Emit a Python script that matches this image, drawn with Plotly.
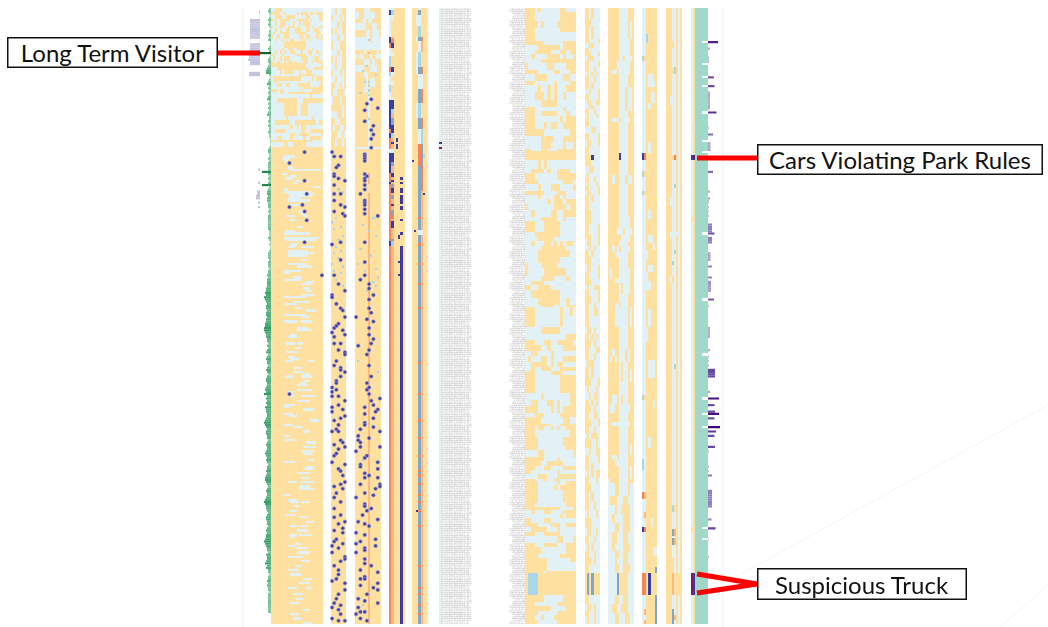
import plotly.graph_objects as go

W, H = 1048, 627
N_ROWS = 280
TOP_PX, BOTTOM_PX = 8, 624

COLORS = {'.': '#FEE0A0', 'b': '#E1F1F6', 'm': '#A8D8E8', 'n': '#7FA8C8', 'd': '#3A3AA0',
          'r': '#F4845A', 'l': '#FDB97D', 't': '#A0D9C8', 'w': '#FFFFFF', 'p': '#7A1F5C'}

A_BANDS = [(0,"bb...bbbbbbbbbbbbbbbbbbb"),(2,"....bb.bbbbb.b...b..b..."),(3,"bb...bb....bbbbb..bbbb.."),
(5,"..bb.....bbb.....b.bbb.."),(6,"bb.b...bbb.bb.b...bbbbbb"),(8,".bbb..bb...b.bbb..b.bb.."),
(9,"bb.b.bb..bb...bb..bb..bb"),(11,"b.bb.....bb.....bbbbb.."),(12,".bb.bb...bbbb..b..bbb.b."),
(14,"bb.bb.bbb..bbb..bb.bbbb."),(15,"bbbbbb..........bbbbbbbb"),(18,"bbbbb.bb..bb....bbb.bbbb"),
(19,"bb.b.b.bb..bbb.bb..bb.bb"),(21,"..bbb.bbbbb.....bb.bbb.b"),(22,"b.bb.b...bbbbb...bbb..bb"),
(24,".bb.bb.b..b.bbb..bb.b..."),(25,"................bbbbbbb."),(27,"bbb..............bbb...."),
(28,"bbbb.b....bbb.bb...bbbbb"),(30,"bbbbbbbbbbbbb.......bbbb"),(31,"b.............bbbbb.b..."),
(33,"b..bbbbbbbbbbbbbb.bbbbb."),(34,"bbb..bb..bbb......bbbb.."),(36,"bbbbbbbbbbbbbbb........."),
(37,"...b..bbbbbbbb.bbbb....."),(38,"bbbb..bb...............b"),(39,"bbbbbbbbbbbbbbbbbb.bbbbb"),
(41,"bbb.........bbb........."),(43,"bbbbbb......bb...bbbbbbb"),(49,"bbbbbbb.bbbbbbbbbbb.bbbb"),
(51,"bb.......bb..........b.."),(53,"bbbbbbbbb.bb.b..bbbbbbbb"),(55,"bb.....bbbbbbb..bb......"),
(57,"bbbbbbbbb..bb.....bbbbb."),(58,"bbb..bbbb.bbbbb.bb.....b"),(60,"...................bbbbbb"),
(61,"bbbbbb..bb......bbbbbbbb"),(63,"........................")]
A_DASHES = [(67,6,5),(68,5,4),(69,6,2),(72,8,2),(73,9,14),(75,5,3),(76,9,3),(77,7,3),(78,11,3),(79,10,2),
(81,20,3),(82,6,2),(83,6,12),(84,8,12),(85,9,10),(86,8,6),(87,8,10),(89,9,4),(92,13,2),(93,14,2),(94,7,4),(94,15,2),
(96,9,2),(99,12,3),(101,7,4),(102,6,12),(104,6,16),(105,7,14),(107,9,3),(108,8,3),(108,14,6),(110,8,9),(111,8,12),
(112,8,9),(114,14,3),(116,8,8),(117,12,7),(119,6,8),(120,6,3),(122,10,4),(123,6,8),(124,16,4),(125,14,5),(127,15,3),
(128,16,3),(130,14,6),(131,6,10),(133,10,8),(134,6,6),(136,11,3),(137,16,5),(139,6,10),(140,14,4),(142,6,6),(142,14,5),
(145,12,5),(146,12,7),(148,9,3),(149,8,4),(152,7,4),(152,12,3),(154,11,3),(156,7,5),(158,8,3),(159,9,4),(160,7,3),
(160,17,3),(163,10,4),(165,10,5),(166,15,3),(167,7,3),(167,14,5),(169,15,3),(170,13,3),(171,12,5),(173,12,7),(174,8,2),
(176,9,2),(176,14,7),(178,12,6),(180,6,5),(181,6,3),(182,15,5),(184,6,4),(185,9,3),(187,18,4),(189,6,4),(190,10,5),
(192,15,3),(194,6,3),(196,6,5),(197,16,5),(199,15,6),(201,14,6),(202,15,4),(205,17,3),(206,6,5),(208,16,4),(209,15,5),
(211,12,6),(213,14,4),(215,8,4),(215,14,6),(217,13,5),(218,13,7),(221,6,3),(223,8,4),(224,9,4),(224,14,4),(226,10,3),
(228,9,3),(230,7,4),(231,13,4),(233,16,4),(235,9,3),(235,13,4),(237,12,5),(239,9,3),(239,13,6),(240,9,2),(243,11,3),
(244,8,3),(245,11,6),(247,12,6),(249,8,7),(251,14,4),(253,11,3),(255,8,5),(257,9,5),(259,15,4),(261,13,5),(263,8,4),
(263,16,3),(266,10,5),(268,11,4),(270,9,4),(273,15,3),(275,9,4),(277,10,4),(279,15,4)]
A_DOTS = [(65,15),(70,8),(78,15),(84,16),(89,14),(90,8),(92,15),(96,16),(106,15),(121,23),(175,8)]

B_BANDS = [(0,"bb.bb.."),(3,".bbb.b."),(6,"bbb.b.."),(9,".b.bb.."),(12,"bbb.bb."),(15,".bbb..."),(19,"bbb.b.."),(22,".b.bb.."),
(25,"bb.bb.."),(28,".bbb.b."),(31,"bb.bbb."),(34,"..bb.b."),(37,".bb...b"),(40,"b...b.."),(44,".....b."),(47,"bbb..b."),(50,"..bb..."),(53,".b..bb."),
(56,"...bb.b"),(59,"..b..b."),(63,".......")]
B_SPOTS = [(82,3),(83,5),(95,2),(97,0),(99,4),(100,1),(103,5),(105,3),(108,2),(110,4),(111,1),(113,3),(116,0),(117,5),(119,1),(120,4),(123,2),(126,5)]
B_DOTS = [(65,0),(67,1),(67,4),(71,3),(72,2),(75,1),(76,1),(77,3),(78,6),(80,1),(84,1),(84,4),(87,1),(89,4),(90,6),(92,1),(93,5),(94,6),
(106,4),(107,0),(114,4),(121,1),(125,3),(128,6),(130,0),(131,0),(134,2),(136,4),(137,5),(140,6),(143,3),(144,2),(145,1),(146,5),(147,0),(148,6),(149,1),
(152,1),(152,4),(155,3),(156,6),(157,6),(160,2),(162,1),(163,4),(164,4),(165,6),(167,4),(169,2),(170,2),(172,0),(173,2),(174,0),(176,0),(176,3),(178,6),
(180,3),(181,0),(182,5),(183,0),(185,6),(186,4),(187,1),(189,3),(191,2),(192,0),(192,3),(196,4),(197,5),(198,1),(199,6),(200,3),(202,2),(203,1),(206,0),
(207,6),(209,3),(210,4),(212,5),(215,6),(216,4),(217,1),(218,5),(220,2),(222,1),(224,4),(227,1),(230,4),(231,1),(233,6),(234,3),(236,5),(237,1),(238,5),
(241,2),(242,1),(243,5),(244,0),(245,3),(247,0),(249,6),(250,6),(251,4),(253,1),(255,3),(257,3),(259,2),(260,0),(261,6),(264,6),(266,3),(268,2),(270,1),
(271,4),(272,0),(273,3),(275,4),(277,0),(278,3),(278,6)]

C_BANDS = [(0,"....bbb....."),(2,"bb..bbbbb..."),(5,"...bb.bb...."),(7,"bbbbb...bb.."),(10,".....bb.bbb."),(13,"bbbbbbb.bbbb"),(16,"bbbbbbbbbbbb"),
(19,"....b.....b."),(21,"b.bb...b.bbb"),(23,"....bbb.b..."),(26,"bbbb...bbb.."),(29,"....bb......"),(32,".....b.bb..."),(36,"....bbb....."),(38,"......b....."),(63,"bbbbbbbbbbbb"),(64,"............")]
C_STRIPE_ROWS = [(20,6,'l'),(33,6,'m'),(37,6,'m'),(39,6,'m'),(50,6,'m'),(75,6,'l'),(76,6,'l'),(77,6,'l'),(78,6,'l'),(79,6,'l'),(84,6,'l'),(85,6,'l')]
C_STRIPE_START = 86
C_DOTS = [(41,7),(43,5),(45,10),(46,4),(51,4),(53,8),(55,7),(57,8),(59,7),(63,7),(66,4),(67,4),(68,4),(69,4),(75,4),(76,5),(77,4),(78,4),(80,4),(82,4),
(84,2),(87,4),(88,4),(89,4),(91,4),(93,4),(94,10),(106,4),(115,4),(121,4),(123,2),(125,6),(127,6),(130,8),(132,6),(136,6),(138,7),(140,0),(141,5),(142,8),
(145,6),(148,6),(150,8),(152,7),(153,1),(155,6),(157,5),(162,6),(167,7),(170,5),(172,6),(173,5),(175,6),(177,11),(178,7),(180,8),(181,4),(182,10),(183,9),
(184,4),(186,8),(188,4),(189,4),(190,8),(191,2),(192,11),(194,1),(195,6),(196,1),(197,2),(199,2),(199,11),(201,0),(203,5),(204,4),(206,10),(207,2),(208,2),
(209,10),(211,4),(212,6),(213,4),(213,10),(216,2),(216,11),(217,11),(218,9),(220,4),(221,8),(222,0),(225,4),(226,4),(227,7),(228,5),(230,3),(232,10),(233,1),
(234,4),(235,6),(238,0),(239,4),(241,9),(242,2),(243,0),(244,9),(245,4),(246,4),(247,0),(250,4),(252,4),(253,7),(255,2),(256,10),(258,4),(259,4),(259,2),
(261,10),(262,2),(263,8),(264,10),(266,5),(268,1),(269,4),(270,10),(272,1),(274,2),(274,4),(275,0),(277,2),(278,5)]
C_SPOTS = [(14,6),(26,5),(28,3),(30,9),(33,4),(35,6),(38,2),(95,8),(98,3),(101,6),(103,9),(109,2),(112,7),(116,1),(118,9),(119,4),(122,10),(124,8),(126,9),(128,5),(160,1),(165,10),(205,3),(271,3)]

D_BANDS = [(0,"bb....."),(1,"dm....."),(3,"bb....."),(6,"b......"),(13,"dl....."),(14,"dr....."),(16,"rd....."),(18,"b......"),(20,"bb....."),(22,"m......"),(27,"rd....."),
(29,"mb....."),(31,"b......"),(33,"bb....."),(35,"m......"),(38,"b......"),(41,"bb....."),(42,"dd....."),(46,"dm....."),(48,"dl....."),(50,"dn....."),(53,"dd....."),
(55,"rd....."),(57,"dm....."),(59,"rl.d..."),(61,"rd....."),(62,"rl.d..."),(64,"bb....."),(66,"dd....."),(70,"dn....."),(72,"dl....."),(75,"rd....."),(77,"rl...d."),
(78,"rd....."),(79,"dl...d."),(80,"rn....."),(82,"rd...d."),(84,"rl....."),(85,"rn...d."),(87,"rl...d."),(89,"rd....."),(90,"rl...d."),(92,"rn....."),(94,"rr....."),
(96,"rl...d."),(97,"rd....."),(100,"rl....."),(102,"rl...d."),(103,"rl..d.."),(105,"rn....."),(106,"dm....."),(108,"rl...d."),(115,"rl..dd."),(116,"rl...d."),(121,"rl..dd."),(122,"rl...d.")]

E_BANDS = [(0,"...b...b"),(1,"...n...b"),(3,"..bb...b"),(8,"...m...b"),(13,"..bnr..b"),(15,"...bl..b"),(20,"..bm...b"),(27,"..bnr..b"),(30,"...bb..b"),(37,"...nr..b"),(43,"..bm...b"),
(50,"...nr..b"),(55,"...bm..b"),(62,"...rn..b"),(72,"...nr..b"),(83,"...nl..b"),(101,"...bb..b"),(103,"...nl..b")]
E_MARKS = [(69,0,'d'),(67,5,'m'),(84,5,'d'),(101,1,'d'),(228,2,'d'),(161,3,'r'),(175,3,'r'),(187,3,'r'),(195,3,'r'),(203,3,'r'),(210,3,'r'),(212,3,'r'),(216,3,'r'),
(221,3,'r'),(224,3,'r'),(228,3,'r'),(235,3,'r'),(253,3,'r'),(263,3,'r'),(266,3,'r'),(271,3,'r'),(275,3,'r'),(95,3,'r'),(107,3,'r'),(116,3,'r'),(125,3,'r'),(136,3,'r')]

F_BANDS = [(0,"b."),(61,"dp"),(62,"b."),(63,"pd"),(64,"b.")]

G_BANDS = [(0,"...b.bbbbbb..bbb"),(2,"...bbbbbbbb....."),(6,"....b.bbbb......"),(9,"...bbbbbbbb....."),(11,"...bbbbbbbbbbbbb"),(15,"......bbbbbb...."),
(17,"bbbb.......b...."),(19,"bbb.....bbb..b.."),(21,"bb.bbbb....b.bb."),(23,"bbbbb..........."),(25,".bbbbbb..bbbb..."),(28,"....bbbbb..bbb.."),(30,"bbb....bbbbb..bb"),
(33,"...bbbbbb.bbbb.."),(35,"bbbb.bb.b.bbb..."),(38,"bbb...b.b.bb.bbb"),(42,"bbbbb.....bbbbbb"),(45,"...bbbbbbbbb.bbb"),(47,"...bb.....bbb.bb"),(49,"...bbbbbbbb.b..."),
(52,"...bbb.b..bb...."),(55,"......bbbbbbbb.."),(58,"bbbbb....bbb...."),(61,"bbbbb...bbbb.bb."),(64,"..bbb..bbb......"),(65,"................"),(69,"bbbb.b.bbbbbbbbb"),
(73,"bb....b.bb....bb"),(75,"...bbbbbbb......"),(78,"....bbbbbbbb...b"),(80,"bbbb.bbb...bbbb."),(83,"......bbbb...bbb"),(85,"bbbb.bbbb..b.bbb"),(87,"bbbbbbb.b...b..."),
(89,".bbbbbbbb....b.."),(92,"bb.bbbbb..bb...."),(95,"bbbbb.....bb.bbb"),(97,"...bbb.....bbbbb"),(102,"bbb........bbbbb"),(104,"bbbb.....bbbbbbb"),(106,"bb.bbb..b.b.b..b"),
(108,"bbbbb........bbb"),(110,"bbbb..........bb"),(113,"bbbb.......bbbbb"),(116,".bbbb.....bbbbbb"),(118,".bbbbb.......bbb"),(122,"bbbbb....bbbb.bb"),(124,"bb....bbbbbbbbbb"),
(126,"..bb....bbbbbbbb"),(128,"bb.........bbbbb"),(132,"bbbb.......bb.bb"),(135,"bbbbb....bbbb..."),(136,"...bbbbbbbb.bb.b"),(140,"...bbbbbbbb.bbbb"),(145,"bbbbb......bbbbb"),
(148,"bbbbbbbbbbbbb..."),(151,"...bbb..bb.....b"),(153,".....bb.bbbb...."),(156,"bb..bbbb.bbbbbbb"),(158,"b.bbb..b.bbb...."),(161,"bb.....b.b..bbbb"),(163,"bb.bb...bbb....."),
(165,"...bbbbb....bbbb"),(167,"...bbbbbbbb....."),(175,"bbbbb.bbbbbbbb.."),(178,"bb..bbb..b.bbb.."),(181,"....bbbb.b.b...."),(184,"bbb...bbbbb....."),(186,".....bbbbbbb..bb"),
(189,"........bbb....."),(190,"...b..bb.b.bb..."),(192,"...bbbbbbbbbbb.."),(195,"....bbbbbbbb...."),(199,"....bbbbbbbbb..."),(201,"bbbb..bbbbbbbbb."),(204,"......bbbb.bbbbb"),
(206,".....bb.....bbbb"),(208,"...bbb..bbbb...."),(210,"..bbbbbbbb.bbbbb"),(212,"bbbb...bbb......"),(214,"...bbb.bb..bbbbb"),(215,"....bbbbbb.bb..."),(217,"....bbbbb.b....."),
(219,"....bbbbbbbb...."),(225,"...bbbbbbbbbb..."),(227,"...........bbbb."),(228,"bb.bbb..bbbb...."),(230,"bbbbbbbbbbb.b..."),(232,"..bbbb..bbbbbbbb"),(234,"....bbbb...bb..."),
(236,"bb.....bbb.bbbbb"),(238,"...bbb.....bbbbb"),(240,"bbbbbbbbbb..bbb."),(243,"...bbb....bbb..."),(245,".....bbbbbbbb..."),(248,"....bbbbbbb....."),(250,".......bbbbbbb.."),
(252,".......bbbbbbbbb"),(256,"......b........."),(257,".mmm............"),(267,"......bbbbbb...."),(270,"...bbbbbbb......"),(272,"........bbbbb..."),(274,"....bbbbbb......"),
(276,"...bb.bbb......."),(278,"....bbbbbb......")]

H_BANDS = [(0,"..b.bbb"),(5,"...bbbb"),(8,"..b.bbb"),(14,"..bbbb."),(16,"bb..bbb"),(18,"..bbbbb"),(20,"...bbb."),(22,"b...bbb"),(24,"..bbbb."),(27,"..bb.bb"),(29,"b.b.b.b"),(31,"..bb.bb"),
(34,"..b.bbb"),(37,"bb.bbb."),(39,"..bbbb."),(42,"b..bb.."),(44,"bb..bbb"),(46,"..bb.bb"),(48,"b.bbb.b"),(50,"..bbbbb"),(54,"bbb..bb"),(57,"..bbbb."),(60,"b..bbb."),(63,"..bbbbb"),
(67,"...dbbb"),(69,"...bbbb"),(72,"bb..bbb"),(75,"b.bbbbb"),(77,"..bb.bb"),(79,"b.bbb.b"),(81,"..bbbb."),(83,"b..bbb."),(85,"..b.bbb"),(88,"..bbbbb"),(92,"...bbbb"),(98,"..bbbb."),
(103,"...bbb."),(105,"b..bbb."),(108,"bb.b.bb"),(110,"..b.bbb"),(113,"...bbbb"),(117,"b..bbb."),(120,"..bbbb."),(123,"...bbbb"),(126,"b.bb..."),(128,"..bbbb."),(131,"...bbb."),
(134,"..bb.bb"),(136,"..bb..b"),(140,"..bbbbb"),(145,"b..b.bb"),(148,"..b.b.b"),(151,"...b.bb"),(154,"..bbb.."),(157,"..bb.bb"),(160,"b...bbb"),(163,"..b.bbb"),(168,"...bbb."),
(172,"b.bbb.b"),(175,"bb.b..b"),(178,"..b.b.b"),(181,"...b.bb"),(184,"..bb..b"),(187,"...bbb."),(190,"..bb.bb"),(193,"b.b...b"),(196,"...bb.b"),(200,"bb.bb.."),(203,"..bbbb."),
(207,"..b.bbb"),(210,"b.b.b.."),(213,"..bbb.b"),(216,"...bbbb"),(220,"..b.bbb"),(224,"..bb.bb"),(228,"b.bbb.b"),(232,"...bbbb"),(236,"b..bb.b"),(240,"..bb.bb"),(243,"b.b.bbb"),
(247,"..bb.bb"),(250,"...b.bb"),(253,"..bbbbb"),(257,".n.n..."),(267,"..bbbbb"),(271,"b..b.bb"),(274,"..bb.bb"),(277,"b.bb.bb")]

I_BANDS = [(0,".....bbbb..."),(6,".....bbbb.b."),(14,".....bbbbb.."),(22,".....bb.bbb."),(24,"....bbbbbb.."),(28,"..bb.bbbbb.."),(30,".....bbbb..."),(36,".....bbb.bb."),(47,".....bbbb..."),
(50,"..bbb.bbbb.."),(52,".....bbbb..."),(66,".....dbbb..."),(69,".....bbbb..."),(76,"..b..bbb.bb."),(80,".....bbbb..."),(95,".....bbbbb.."),(100,"....bbb.bbb."),(103,"......bbbb.."),
(106,".....bbbb..."),(108,"..b.b.bbbb.."),(111,"...bbbbbb..."),(113,".....bbbb..."),(118,".b...bbbbb.."),(123,"...bbbbbbb.."),(125,".....b.bbb.."),(130,".....bbbb..."),(134,"...bb.bbb..."),
(136,"...bbbbbb.b."),(145,".....bbbb..."),(155,"..b..bbb.b.."),(158,".b.b.bbb.b.."),(161,".....b.bb..."),(164,".....b.bb.b."),(170,".....bbbb..."),(176,"..bb.b.bb..."),
(180,".bb..bbbbb.."),(184,".....bbbb..."),(188,"..bbbbbbbb.."),(190,".....bbbb..."),(198,".....bbbb.b."),(203,"..bb.bbbb..."),(205,"...bbbbbb..."),(208,".....bbbb.b."),
(214,"b....bbbb..."),(216,"bbb..bbbb.bb"),(222,"b...bbb..bbb"),(226,"bbb.bb....bb"),(230,"bb.bbbb...bb"),(234,"bbb..bb...bb"),(238,"bb..bbb..bbb"),(243,"bb.bbbb...bb"),(247,"bbb..bb..bbb"),
(250,"bbb.bbb..bbb"),(253,"bbb..bb...bb"),(257,"bbbbn....bbb"),(267,"bbb..bb..bbb"),(271,"bb..bb...bbb"),(275,"bbb..bbb..bb")]

J_BANDS = [(0,"bb....."),(12,"bbm...."),(16,"bb....."),(22,"m......"),(24,"bb....."),(30,"bb.bb.."),(33,"bb.bbb."),(36,"bb....."),(38,"bb..bb."),(43,"bb.b..."),(46,"bb....."),(61,"bb.b..."),
(66,"dr....."),(69,"bb....."),(74,"m......"),(77,"bb....."),(83,"m......"),(85,"bb....."),(92,"bb.b..."),(96,"bb....."),(103,"bb.bb.."),(107,"bb...b."),(110,"bbb...."),(114,"bb....."),
(117,"bb.bb.."),(120,"bbb...."),(124,"bbbb..."),(128,"bb....."),(137,"bb.b..."),(145,"bbb...."),(152,"bb....."),(160,"bb.bbb."),(168,"bb....."),(176,"m......"),(178,"bb...b."),
(182,"bb....."),(195,"bb.b..."),(200,"bb....."),(205,"mb....."),(210,"bb....."),(220,"rl....."),(223,"bb....."),(229,"bl....."),(232,"bb..b.."),(236,"dr....."),(238,"bb....."),
(245,"bb...bb"),(249,"bb....."),(254,"bb....n"),(257,"rr.d..."),(267,"bb....n"),(273,"bl....n"),(276,"bb....n"),(278,"bl....n")]

K_BANDS = [(0,"...bb.b."),(15,"....b.b."),(18,"...bb.b."),(27,"....m.b."),(30,"...bb.b."),(40,"..bbb.b."),(44,"...bb.b."),(67,"....r.b."),(69,"...bb.b."),(80,"...bm.b."),(82,"...bb.b."),(86,"..bbb.b."),
(90,"...bb.b."),(102,"..bbbbb."),(104,"...bb.b."),(110,"...bm.b."),(112,"...bb.b."),(115,"...mb.b."),(117,"...bb.b."),(122,"..b.b.b."),(125,"...bb.b."),(162,"...bm.b."),(164,"...bb.b."),
(226,"...m..b."),(229,"...bb.b."),(237,"...nl.b."),(240,"...bb.b."),(241,"...nl.b."),(244,"...bb.b."),(250,"....b.b."),(257,"...l...."),(267,"...bb.b."),(273,"...nb.b."),(276,"...nl.b."),(278,"...nb.b.")]

L_TOP_BANDS = [(0,"b.tttttt"),(54,".btttttt"),(55,"b.tttttt"),(67,"dptttttt"),(69,"b.tttttt"),(95,"..tttttt"),(97,"b.tttttt"),(236,"..tttttt"),(238,"b.tttttt"),(257,"pdtttttt"),(267,"b.tttttt")]
TEAL_WHITE_ROWS = [15,25,31,35,47,60,65,102,132,157,177,184,190,236,241]

GREEN_VALUES = [2,3,2,1,2,3,2,3,2,1,2,2,3,2,3, 1,1,2,3,2,12,1,2,3,3,2,3,4,5,5,
2,1,2,3,4,2,3,2,3,2,3,4,2,3,2, 3,2,3,4,2,2,3,2,3,2,2,3,2,2,1,
1,1,1,2,3,3,2,2,3,2,3,3,3,3,9, 3,2,3,2,3,9,2,3,4,4,3,4,4,3,3,
3,2,3,2,3,3,3,3,3,3,3,2,2,2,3, 2,1,2,1,1,2,3,3,3,2,3,3,3,2,3,
3,4,3,4,4,4,4,5,5,6,5,7,6,5,4, 5,5,4,5,5,4,5,5,6,6,7,7,6,5,5,
4,4,3,4,3,4,5,3,4,5,4,4,3,4,5, 4,3,4,5,5,4,4,5,6,5,7,4,5,4,5,
4,6,5,5,4,4,5,6,7,6,5,4,5,5,4, 4,3,4,5,4,4,5,6,5,4,5,4,3,4,4,
5,4,5,6,6,5,4,3,4,5,4,4,5,6,7, 6,5,5,4,3,4,5,5,4,4,3,4,5,4,5,
5,6,7,6,5,4,4,3,5,4,4,5,6,4,5, 3,3,2,3,3,4,3,4,3,3,2,3,3,3,3,3,3,3,3,3]

LEFT_PURPLE_ROWS = [1,2,5,6,7,8,9,10,11,12,13,16,17,18,19,20,21,22,23,24,25,29,30,73,79,83,84,85,86,88,90]
LEFT_PURPLE_VALUES = [1,1,10,10,10,10,10,10,10,10,10,10,10,10,11,11,11,11,12,10,10,11,11,2,2,3,3,4,4,2,2]

RIGHT_PURPLE_ROWS = [15,18,22,23,24,31,35,38,39,40,41,42,43,44,45,47,54,57,61,62,63,64,74,83,86,87,88,90,92,94,98,99,100,101,102,104,105,106,
111,112,113,114,117,122,124,125,126,127,128,132,135,145,146,147,148,149,155,158,160,162,164,165,166,167,174,177,180,183,184,186,190,192,194,199,201,208,210,212,219,220,221,222,223,224,225,226,232,236,241,249]
RIGHT_PURPLE_VALUES = [10,2,1,1,1,6,6.5,2,2,2,2,2,2,2,2,8.5,1,5,2.5,2.5,2.5,2.5,5,2,2,1,1,1,1,1,4,4,4,4,6.5,4,4,4,
2.5,2.5,2.5,2.5,4,4,3,3,3,3,3,6,1,2,2,2,2,2,2,1,1,1,7,7,7,7,2,11,6.5,7,11,6.5,12,8,6.5,7,1,1,1,4,4,4,4,4,4,4,4,4,3.5,7.5,1,1]

LEFT_IDS = ["20155705025759-63","20154112014114-381","20162904122951-717","20160623090611-424",
            "20153427103455-30","20161008061012-639","20154519024544-322","20160114031109-21"]
RIGHT_IDS = ["2015-4112","20162904-7","20160623","2015-34","20161008","201545-3","20160114-2"]

BOXES = ["Long Term Visitor", "Cars Violating Park Rules", "Suspicious Truck"]

CODES = list(COLORS)
colorscale = []
for i, c in enumerate(CODES):
    colorscale += [[i / len(CODES), COLORS[c]], [(i + 1) / len(CODES), COLORS[c]]]


def expand(bands):
    rows, n = [], len(bands)
    for i, (start, text) in enumerate(bands):
        end = bands[i + 1][0] if i + 1 < n else N_ROWS
        rows += [list(text)] * (end - start)
    return [list(r) for r in rows]


def put(grid, marks, code):
    for r, c in marks:
        grid[r][c] = code


a = expand(A_BANDS)
for r, c, n in A_DASHES:
    for k in range(n):
        a[r][c + k] = 'b'

b = expand(B_BANDS)
put(b, B_SPOTS, 'm')

cc = expand(C_BANDS)
for r in range(C_STRIPE_START, N_ROWS):
    cc[r][6] = 'l'
for r, c, k in C_STRIPE_ROWS:
    cc[r][c] = k
put(cc, C_SPOTS, 'm')

d = expand(D_BANDS)
e = expand(E_BANDS)
for r, c, k in E_MARKS:
    e[r][c] = k
f = expand(F_BANDS)
g = expand(G_BANDS)
h = expand(H_BANDS)
ii = expand(I_BANDS)
j = expand(J_BANDS)
k_ = expand(K_BANDS)
l_ = expand(L_TOP_BANDS)
for r in TEAL_WHITE_ROWS:
    for c in (5, 6, 7):
        l_[r][c] = 'w'

PANELS = [(a, 271, 323, A_DOTS), (b, 331, 346, B_DOTS), (cc, 355, 381, C_DOTS), (d, 389, 405, None), (e, 412, 429, None), (f, 439, 442, None),
          (g, 525, 576, None), (h, 585, 600, None), (ii, 608, 634, None), (j, 642, 657, None), (k_, 666, 682, None), (l_, 691, 708, None)]

fig = go.Figure()
layout = dict(width=W, height=H, margin=dict(l=0, r=0, t=0, b=0), paper_bgcolor='white', plot_bgcolor='rgba(0,0,0,0)',
              showlegend=False,
              yaxis=dict(domain=[(H - BOTTOM_PX) / H, (H - TOP_PX) / H], range=[N_ROWS - 0.5, -0.5], visible=False, fixedrange=True))
axis_no = 0


def new_x(px0, px1, rng):
    global axis_no
    axis_no += 1
    name = 'xaxis' if axis_no == 1 else f'xaxis{axis_no}'
    layout[name] = dict(domain=[px0 / W, px1 / W], range=rng, visible=False, anchor='y', fixedrange=True)
    return 'x' if axis_no == 1 else f'x{axis_no}'


for grid, px0, px1, dots in PANELS:
    xa = new_x(px0, px1, [-0.5, len(grid[0]) - 0.5])
    z = [[CODES.index(ch) + 0.5 for ch in row] for row in grid]
    fig.add_trace(go.Heatmap(z=z, xaxis=xa, yaxis='y', zmin=0, zmax=len(CODES), colorscale=colorscale,
                             showscale=False, hoverinfo='skip'))
    if dots:
        fig.add_trace(go.Scatter(x=[p[1] for p in dots], y=[p[0] for p in dots], mode='markers', xaxis=xa, yaxis='y',
                                 hoverinfo='skip', cliponaxis=False,
                                 marker=dict(size=3.6, color='#3F3FA5', line=dict(color='#9A9AD2', width=0.6))))

rows = list(range(N_ROWS))
xa = new_x(259, 271, [12, 0])
fig.add_trace(go.Bar(x=GREEN_VALUES, y=rows, orientation='h', xaxis=xa, yaxis='y', width=1,
                     marker=dict(color=GREEN_VALUES, cmin=1, cmax=12, line_width=0,
                                 colorscale=[[0, '#A5DBB8'], [0.3, '#55B07E'], [0.6, '#2E9A5C'], [1, '#14602F']])))
xa = new_x(247, 260, [13, 0])
fig.add_trace(go.Bar(x=LEFT_PURPLE_VALUES, y=LEFT_PURPLE_ROWS, orientation='h', xaxis=xa, yaxis='y', width=1,
                     marker=dict(color='#C3C3E0', line_width=0)))
xa = new_x(708, 720.5, [0, 12.5])
fig.add_trace(go.Bar(x=RIGHT_PURPLE_VALUES, y=RIGHT_PURPLE_ROWS, orientation='h', xaxis=xa, yaxis='y', width=1,
                     marker=dict(color=RIGHT_PURPLE_VALUES, cmin=1, cmax=12, line_width=0,
                                 colorscale=[[0, '#BEB8DC'], [0.5, '#6A51A3'], [1, '#3F007D']])))

xa = new_x(442, 480, [0, 38])
fig.add_trace(go.Scatter(x=[0] * N_ROWS, y=rows, mode='text', xaxis=xa, yaxis='y', hoverinfo='skip',
                         text=[LEFT_IDS[r % len(LEFT_IDS)] for r in rows], textposition='middle right',
                         textfont=dict(size=3, color='#c4c4c4', family='Liberation Sans')))
xa = new_x(500, 525, [0, 25])
fig.add_trace(go.Scatter(x=[25] * N_ROWS, y=rows, mode='text', xaxis=xa, yaxis='y', hoverinfo='skip',
                         text=[RIGHT_IDS[r % len(RIGHT_IDS)] for r in rows], textposition='middle left',
                         textfont=dict(size=3, color='#c4c4c4', family='Liberation Sans')))


def px_x(v):
    return v / W


def px_y(v):
    return 1 - v / H


def seg(x0, y0, x1, y1, color, width):
    return dict(type='line', xref='paper', yref='paper', x0=px_x(x0), y0=px_y(y0), x1=px_x(x1), y1=px_y(y1),
                line=dict(color=color, width=width))


layout['shapes'] = [seg(243, 8, 243, 627, '#EFEFEF', 1), seg(723, 8, 723, 627, '#EFEFEF', 1),
                    seg(730, 580, 1048, 405, '#F5F5F5', 1), seg(1000, 627, 1048, 585, '#F5F5F5', 1),
                    seg(218, 53, 260, 53, '#FF0000', 5), seg(697, 158, 757, 158, '#FF0000', 5),
                    seg(697, 574, 757, 584, '#FF0000', 5), seg(697, 593, 757, 584, '#FF0000', 5)]


def box(text, x0, x1, y0, y1):
    return dict(text=text, xref='paper', yref='paper', x=(x0 + x1) / 2 / W, y=px_y((y0 + y1) / 2), showarrow=False,
                width=x1 - x0 - 3, height=y1 - y0 - 3, xanchor='center', yanchor='middle', align='center', bgcolor='white',
                bordercolor='#111', borderwidth=1.5, borderpad=0, font=dict(family='Lato', size=24, color='#111'))


layout['annotations'] = [box(BOXES[0], 7, 218, 37, 68), box(BOXES[1], 757, 1043, 144, 175), box(BOXES[2], 757, 967, 568, 600)]
fig.update_layout(**layout)
PAGE_SCRIPT = """
document.body.style.margin = '0';
var gd = document.getElementById('{plot_id}');
var svg = gd.querySelector('.main-svg');
var NS = 'http://www.w3.org/2000/svg';
var flt = document.createElementNS(NS, 'filter');
flt.setAttribute('id', 'soft');
flt.setAttribute('x', '0'); flt.setAttribute('y', '0');
flt.setAttribute('width', '1'); flt.setAttribute('height', '1');
flt.setAttribute('filterUnits', 'objectBoundingBox');
var gb = document.createElementNS(NS, 'feGaussianBlur');
gb.setAttribute('stdDeviation', '0.6');
flt.appendChild(gb);
svg.querySelector('defs').appendChild(flt);
svg.querySelector('.cartesianlayer').setAttribute('filter', 'url(#soft)');
"""
fig.write_html("out.html", post_script=PAGE_SCRIPT, config=dict(displayModeBar=False))
